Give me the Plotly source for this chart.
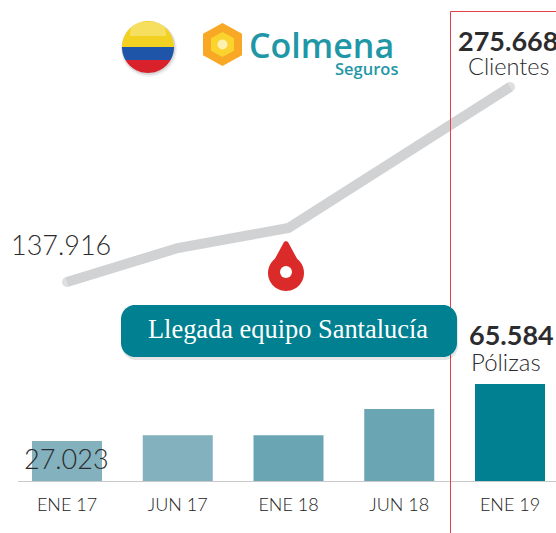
import math
import plotly.graph_objects as go

# ---- data ----
periods = ["ENE 17", "JUN 17", "ENE 18", "JUN 18", "ENE 19"]
polizas = [27023, 31000, 31000, 48700, 65584]
clientes = [137916, 161900, 176100, 226500, 275668]
bar_colors = ["#83b1bd", "#83b1bd", "#6aa5b4", "#6aa5b4", "#008090"]
cap_sizes = [10, 0, 0, 0, 10]

W, H = 556, 533
ML, MR, MT, MB = 18, 0, 0, 52
PW, PH = W - ML - MR, H - MT - MB

def fx(x):
    return (x - ML) / PW

def fy(y):
    return 1 - (y - MT) / PH

def P(x, y):
    return f"{fx(x):.5f},{fy(y):.5f}"

def path(points, color, close=True):
    s = "M" + " L".join(P(x, y) for x, y in points) + (" Z" if close else "")
    return dict(type="path", xref="paper", yref="paper", path=s, fillcolor=color, line=dict(width=0), layer="above")

def circle(cx, cy, r, color):
    return dict(type="circle", xref="paper", yref="paper", x0=fx(cx - r), x1=fx(cx + r), y0=fy(cy - r), y1=fy(cy + r),
                fillcolor=color, line=dict(width=0), layer="above")

def rounded(x0, y0, x1, y1, r, color):
    pts = []
    for cx, cy, a0 in ((x1 - r, y0 + r, -90), (x1 - r, y1 - r, 0), (x0 + r, y1 - r, 90), (x0 + r, y0 + r, 180)):
        for k in range(0, 13):
            a = math.radians(a0 + k * 7.5)
            pts.append((cx + r * math.cos(a), cy + r * math.sin(a)))
    return path(pts, color)

def chord(cx, cy, r, y0, y1, color):
    pts = []
    n = 30
    for k in range(n + 1):
        y = y0 + (y1 - y0) * k / n
        pts.append((cx + math.sqrt(max(r * r - (y - cy) ** 2, 0)), y))
    for k in range(n + 1):
        y = y1 + (y0 - y1) * k / n
        pts.append((cx - math.sqrt(max(r * r - (y - cy) ** 2, 0)), y))
    return path(pts, color)

def hexagon(cx, cy, rx, ry, color):
    return path([(cx, cy - ry), (cx + rx, cy - ry / 2), (cx + rx, cy + ry / 2), (cx, cy + ry),
                 (cx - rx, cy + ry / 2), (cx - rx, cy - ry / 2)], color)

def drop(cx, top, cy, r, color):
    pts = [(cx - 2, top + 1), (cx, top), (cx + 2, top + 1)]
    a_start = -52
    for k in range(0, 41):
        a = math.radians(a_start + k * (180 - 2 * a_start) / 40)
        pts.append((cx + r * math.cos(a), cy + r * math.sin(a)))
    return path(pts, color)

shapes = [
    # highlighted column
    dict(type="rect", xref="paper", yref="paper", x0=fx(450.5), x1=fx(570), y0=fy(11.5), y1=fy(545),
         fillcolor="rgba(0,0,0,0)", line=dict(color="#e2404a", width=1), layer="above"),
    # callout
    rounded(122, 307, 458, 360, 14, "rgba(0,0,0,0.10)"),
    rounded(121, 305, 457, 357, 14, "#008090"),
    # drop marker
    drop(286, 241, 273, 18, "#da2a2a"),
    circle(286, 272, 6, "#ffffff"),
    # flag
    circle(149, 49, 28, "rgba(0,0,0,0.06)"),
    circle(148.5, 48, 27, "rgba(0,0,0,0.10)"),
    chord(148, 47, 26, 21, 47, "#f3d120"),
    chord(148, 47, 26, 47, 60, "#1f55a8"),
    chord(148, 47, 26, 60, 73, "#d8212b"),
    chord(148, 34, 18, 22, 36, "rgba(255,255,255,0.28)"),
    # logo
    hexagon(222.5, 44.5, 19.5, 21.5, "#f8a824"),
    hexagon(222.5, 44.5, 11.5, 12.5, "#fbd32f"),
    circle(222.5, 44.5, 5, "#fdf0b0"),
]

def note(text, x, y, size, color="#2c2c2e", family="Lato, sans-serif", anchor="center", weight=None):
    font = dict(size=size, color=color, family=family)
    if weight:
        font["weight"] = weight
    return dict(text=text, xref="paper", yref="paper", x=fx(x), y=fy(y), showarrow=False, xanchor=anchor,
                yanchor="middle", font=font)

LIGHT = "Lato Light, Lato, sans-serif"
annotations = [
    note("<b>275.668</b>", 456, 40, 27, anchor="left"),
    note("Clientes", 509, 66, 23.5, family=LIGHT),
    note("<b>65.584</b>", 467, 334, 27, anchor="left"),
    note("Pólizas", 506, 361, 24, family=LIGHT),
    note("137.916", 61, 244, 27, family=LIGHT),
    note("27.023", 66.5, 458, 27, family=LIGHT),
    note("Llegada equipo Santalucía", 288, 329, 26.4, "#ffffff", "Liberation Serif, serif"),
    note("Colmena", 321, 45, 34, "#1f97a6", "Open Sans, sans-serif", weight=600),
    note("Seguros", 366, 69, 16.5, "#1f97a6", "Open Sans, sans-serif", weight=600),
]

fig = go.Figure()
fig.add_bar(x=periods, y=polizas, marker=dict(color=bar_colors, line=dict(width=0)), width=70 / 110.75, yaxis="y")
fig.add_scatter(x=periods, y=clientes, mode="lines+markers", line=dict(color="#d1d2d4", width=10),
                marker=dict(color="#d1d2d4", size=cap_sizes, line=dict(width=0)), yaxis="y2")

fig.update_layout(
    width=W, height=H, autosize=False,
    margin=dict(l=ML, r=MR, t=MT, b=MB),
    paper_bgcolor="#ffffff", plot_bgcolor="#ffffff",
    showlegend=False,
    shapes=shapes, annotations=annotations,
    xaxis=dict(type="category", categoryorder="array", categoryarray=periods,
               range=[(ML - 67) / 110.75, (W - 67) / 110.75],
               showgrid=False, zeroline=False, showline=True, linecolor="#c9c9c9", linewidth=1,
               ticks="", ticklabelstandoff=7,
               tickfont=dict(family=LIGHT, size=18, color="#222222")),
    yaxis=dict(range=[0, 481 * 676], visible=False, fixedrange=True),
    yaxis2=dict(range=[137916 + (282 - 481) * 706.5, 137916 + 282 * 706.5], overlaying="y", visible=False),
)
fig.write_html("out.html", config=dict(displayModeBar=False),
               post_script="document.body.style.margin='0';document.documentElement.style.overflow='hidden';")
